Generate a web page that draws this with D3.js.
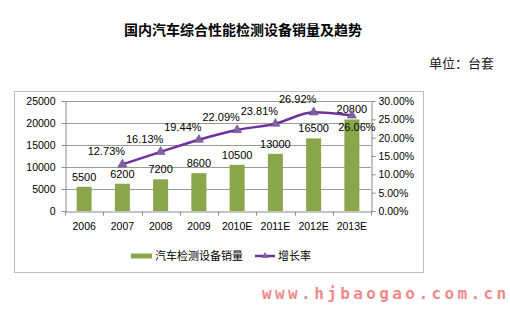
<!DOCTYPE html>
<html>
<head>
<meta charset="utf-8">
<script src="https://d3js.org/d3.v7.min.js"></script>
<style>
  body { margin: 0; background: #fff; }
  svg { display: block; }
  text { font-family: "Liberation Sans", Arial, sans-serif; }
</style>
</head>
<body>
<svg id="chart" width="510" height="314"></svg>
<script>
  var years = ["2006", "2007", "2008", "2009", "2010E", "2011E", "2012E", "2013E"];
  var sales = [5500, 6200, 7200, 8600, 10500, 13000, 16500, 20800];
  var growth = [null, 0.1273, 0.1613, 0.1944, 0.2209, 0.2381, 0.2692, 0.2606];
  var growthLabels = ["", "12.73%", "16.13%", "19.44%", "22.09%", "23.81%", "26.92%", "26.06%"];
  var leftTicks = [0, 5000, 10000, 15000, 20000, 25000];
  var rightTicks = [0, 0.05, 0.10, 0.15, 0.20, 0.25, 0.30];
  var seriesNames = ["汽车检测设备销量", "增长率"];

  var barColor = "#8aa64a";
  var lineColor = "#7030a0";
  var markerColor = "#8064a2";
  var gridColor = "#9a9a9a";

  var svg = d3.select("#chart");

  // title + unit
  svg.append("text").attr("x", 243).attr("y", 35)
    .attr("text-anchor", "middle")
    .style("font-family", "'Noto Sans CJK SC', sans-serif")
    .style("font-size", "14px").style("font-weight", "bold")
    .text("国内汽车综合性能检测设备销量及趋势");
  svg.append("text").attr("x", 494).attr("y", 68)
    .attr("text-anchor", "end")
    .style("font-family", "'Noto Sans CJK SC', sans-serif")
    .style("font-size", "13px").attr("fill", "#222")
    .text("单位：台套");

  // chart border box
  svg.append("rect").attr("x", 14.5).attr("y", 91.5)
    .attr("width", 409).attr("height", 181)
    .attr("fill", "#fff").attr("stroke", "#bdbdbd").attr("stroke-width", 1);

  var x = d3.scaleBand().domain(years).range([65, 371]).paddingInner(0).paddingOuter(0);
  var yL = d3.scaleLinear().domain([0, 25000]).range([211, 101]);
  var yR = d3.scaleLinear().domain([0, 0.3]).range([211, 101]);

  // gridlines
  svg.append("g").selectAll("line").data(leftTicks.slice(1)).enter().append("line")
    .attr("x1", 65).attr("x2", 371)
    .attr("y1", function(d) { return Math.round(yL(d)) + 0.5; })
    .attr("y2", function(d) { return Math.round(yL(d)) + 0.5; })
    .attr("stroke", gridColor).attr("stroke-width", 1);

  // bars
  var barW = 15;
  svg.append("g").selectAll("rect").data(sales).enter().append("rect")
    .attr("x", function(d, i) { return x(years[i]) + x.bandwidth() / 2 - barW / 2; })
    .attr("y", function(d) { return yL(d); })
    .attr("width", barW)
    .attr("height", function(d) { return yL(0) - yL(d); })
    .attr("fill", barColor);

  // axes
  var axisStyle = function(g) {
    g.select(".domain").attr("stroke", "#8a8a8a");
    g.selectAll(".tick line").attr("stroke", "#8a8a8a");
    g.selectAll("text").style("font-family", "'Liberation Sans', Arial, sans-serif")
      .style("font-size", "10.5px").attr("fill", "#000");
  };

  svg.append("g").attr("transform", "translate(65.5,0)")
    .call(d3.axisLeft(yL).tickValues(leftTicks).tickSize(4).tickPadding(6).tickSizeOuter(0)
      .tickFormat(d3.format("d")))
    .call(axisStyle);

  svg.append("g").attr("transform", "translate(371.5,0)")
    .call(d3.axisRight(yR).tickValues(rightTicks).tickSize(4).tickPadding(3).tickSizeOuter(0)
      .tickFormat(function(d) { return (d * 100).toFixed(2) + "%"; }))
    .call(axisStyle);

  var xAxis = svg.append("g").attr("transform", "translate(0,211.5)")
    .call(d3.axisBottom(x).tickSize(0).tickPadding(11).tickSizeOuter(0))
    .call(axisStyle);
  // tick marks between categories
  xAxis.selectAll(".sep").data(d3.range(years.length + 1)).enter().append("line")
    .attr("x1", function(i) { return Math.round(65 + i * x.step()) + 0.5; })
    .attr("x2", function(i) { return Math.round(65 + i * x.step()) + 0.5; })
    .attr("y1", 0).attr("y2", 4).attr("stroke", "#8a8a8a");

  // bar value labels
  svg.append("g").selectAll("text").data(sales).enter().append("text")
    .attr("x", function(d, i) { return x(years[i]) + x.bandwidth() / 2; })
    .attr("y", function(d) { return yL(d) - 6; })
    .attr("text-anchor", "middle")
    .style("font-size", "11px")
    .text(function(d) { return d; });

  // growth line
  var pts = growth.map(function(g, i) { return { year: years[i], v: g, label: growthLabels[i] }; })
    .filter(function(d) { return d.v !== null; });

  var line = d3.line()
    .x(function(d) { return x(d.year) + x.bandwidth() / 2; })
    .y(function(d) { return yR(d.v); })
    .curve(d3.curveMonotoneX);

  svg.append("path").datum(pts).attr("d", line)
    .attr("fill", "none").attr("stroke", lineColor).attr("stroke-width", 2.5);

  var tri = d3.symbol().type(d3.symbolTriangle).size(36);
  svg.append("g").selectAll("path").data(pts).enter().append("path")
    .attr("d", tri)
    .attr("transform", function(d) { return "translate(" + (x(d.year) + x.bandwidth() / 2) + "," + yR(d.v) + ")"; })
    .attr("fill", markerColor).attr("stroke", "#5f3f86").attr("stroke-width", 0.5);

  svg.append("g").selectAll("text").data(pts).enter().append("text")
    .attr("x", function(d, i) {
      var cx = x(d.year) + x.bandwidth() / 2;
      return i === pts.length - 1 ? cx + 5 : cx - 16;
    })
    .attr("y", function(d, i) {
      return i === pts.length - 1 ? yR(d.v) + 16 : yR(d.v) - 9;
    })
    .attr("text-anchor", "middle")
    .style("font-size", "11px")
    .text(function(d) { return d.label; });

  // legend
  var lg = svg.append("g").attr("transform", "translate(0,256)");
  lg.append("rect").attr("x", 131).attr("y", -2.5).attr("width", 21).attr("height", 5).attr("fill", barColor);
  lg.append("text").attr("x", 155).attr("y", 4)
    .style("font-family", "'Noto Sans CJK SC', sans-serif").style("font-size", "11px")
    .text(seriesNames[0]);
  lg.append("line").attr("x1", 255).attr("x2", 275).attr("y1", 0).attr("y2", 0)
    .attr("stroke", lineColor).attr("stroke-width", 2.5);
  lg.append("path").attr("d", d3.symbol().type(d3.symbolTriangle).size(22))
    .attr("transform", "translate(265,0)").attr("fill", markerColor);
  lg.append("text").attr("x", 278).attr("y", 4)
    .style("font-family", "'Noto Sans CJK SC', sans-serif").style("font-size", "11px")
    .text(seriesNames[1]);

  // watermark
  svg.append("text").attr("x", 262).attr("y", 299)
    .style("font-family", "'DejaVu Sans Mono', monospace")
    .style("font-size", "16px").style("font-weight", "bold")
    .style("letter-spacing", "3.4px")
    .attr("fill", "#f08a8a")
    .text("www.hjbaogao.com.cn");
</script>
</body>
</html>
